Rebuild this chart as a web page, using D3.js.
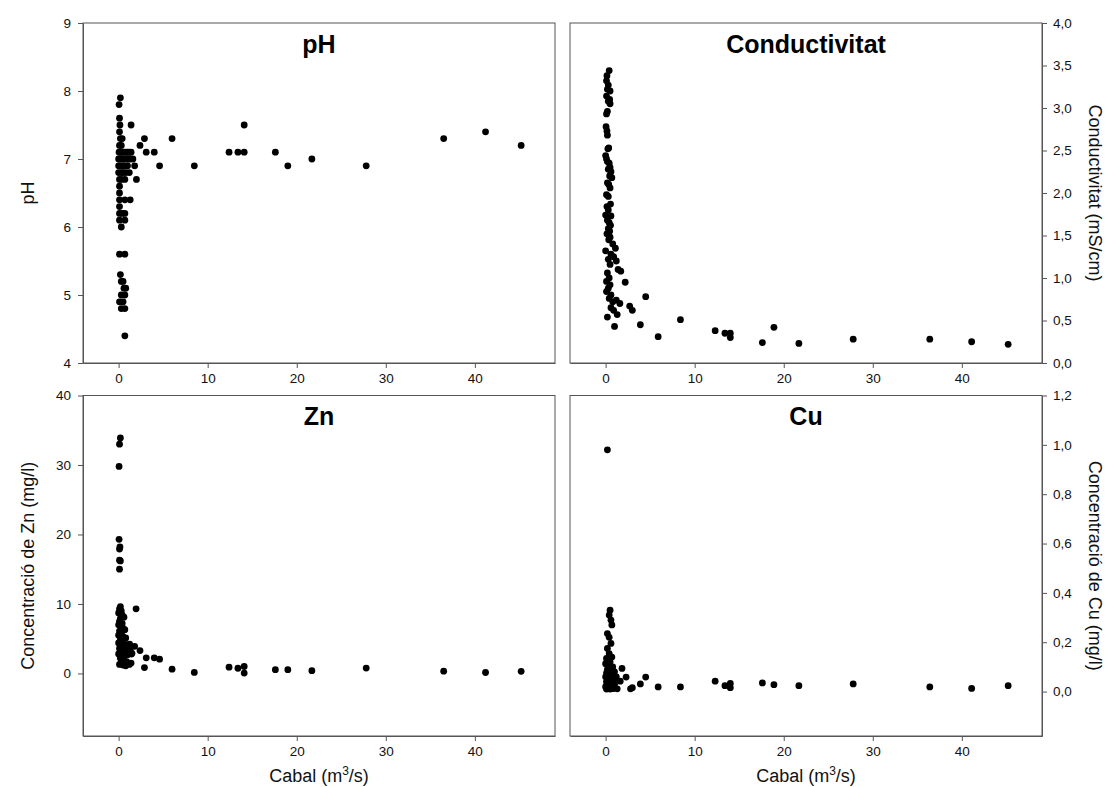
<!DOCTYPE html>
<html><head><meta charset="utf-8">
<script src="https://cdn.jsdelivr.net/npm/d3@7"></script>
<style>
body{margin:0;background:#fff}
text{font-family:"Liberation Sans",Arial,sans-serif}
</style>
</head><body>
<svg id="c" width="1106" height="787"></svg>
<script>
// ---------- DATA ----------
const cabalTicks = [0, 10, 20, 30, 40];
const phTicks = [4, 5, 6, 7, 8, 9];
const condTicks = [0, 0.5, 1, 1.5, 2, 2.5, 3, 3.5, 4];
const znTicks = [0, 10, 20, 30, 40];
const cuTicks = [0, 0.2, 0.4, 0.6, 0.8, 1.0, 1.2];

// [cabal (m3/s), pH]
const phData = [
 [0.2,7.9],[0.05,7.8],[0.1,7.6],[0.15,7.5],[1.4,7.5],[0.1,7.4],[0.2,7.3],[0.4,7.3],[2.9,7.3],
 [0.1,7.2],[0.3,7.2],[2.4,7.2],
 [0.05,7.1],[0.2,7.1],[0.4,7.1],[0.6,7.1],[0.8,7.1],[1.0,7.1],[1.2,7.1],[1.4,7.1],[3.1,7.1],[4.0,7.1],
 [0.0,7.0],[0.2,7.0],[0.4,7.0],[0.6,7.0],[0.9,7.0],[1.1,7.0],[1.3,7.0],[1.6,7.0],
 [0.0,6.9],[0.2,6.9],[0.5,6.9],[0.7,6.9],[1.0,6.9],[1.8,6.9],[4.6,6.9],
 [0.0,6.8],[0.3,6.8],[0.5,6.8],[0.8,6.8],[1.2,6.8],
 [0.1,6.7],[0.3,6.7],[0.7,6.7],[2.0,6.7],
 [0.1,6.6],[0.1,6.5],[0.1,6.4],[0.7,6.4],[1.3,6.4],[0.1,6.3],
 [0.1,6.2],[0.4,6.2],[0.7,6.2],[0.1,6.1],[0.7,6.1],[0.3,6.0],
 [0.1,5.6],[0.7,5.6],[0.2,5.3],[0.3,5.2],[0.5,5.2],[0.6,5.1],[0.8,5.1],
 [0.3,5.0],[0.7,5.0],[0.1,4.9],[0.5,4.9],[0.3,4.8],[0.7,4.8],[0.7,4.4],
 [6.0,7.3],[8.5,6.9],[12.4,7.1],[13.4,7.1],[14.1,7.1],[14.1,7.5],[17.6,7.1],[19.0,6.9],
 [21.7,7.0],[27.8,6.9],[36.5,7.3],[41.2,7.4],[45.2,7.2]
];

// [cabal (m3/s), conductivitat (mS/cm)]
const condData = [
 [0.4,3.44],[0.15,3.38],[0.1,3.32],[0.3,3.27],[0.2,3.22],[0.5,3.2],[0.1,3.14],[0.45,3.1],[0.3,3.08],
 [0.5,3.05],[0.2,2.96],[0.1,2.93],[0.05,2.78],[0.15,2.73],[0.2,2.68],[0.35,2.53],[0.25,2.52],
 [0.0,2.44],[0.1,2.4],[0.2,2.37],[0.4,2.35],[0.5,2.3],[0.3,2.28],[0.6,2.25],[0.45,2.2],[0.7,2.18],
 [0.2,2.12],[0.35,2.1],[0.5,2.06],[0.1,1.98],[0.3,1.96],[0.55,1.87],[0.15,1.84],[0.3,1.8],
 [0.0,1.74],[0.6,1.73],[0.2,1.68],[0.4,1.65],[0.55,1.62],[0.3,1.58],[0.45,1.55],[0.15,1.52],
 [0.5,1.48],[0.35,1.45],[0.8,1.4],[1.1,1.35],[0.0,1.32],[0.6,1.28],[0.9,1.25],[0.3,1.22],
 [1.2,1.2],[0.5,1.16],[1.4,1.1],[1.7,1.08],[0.2,1.06],[0.4,1.0],[0.1,0.96],[2.2,0.95],[0.5,0.92],
 [0.3,0.88],[0.1,0.84],[0.6,0.8],[4.5,0.78],[0.4,0.76],[1.2,0.74],[0.8,0.72],[1.6,0.7],[2.7,0.67],
 [0.6,0.65],[3.0,0.62],[0.9,0.62],[1.3,0.57],[0.2,0.54],[3.9,0.45],[1.0,0.43],
 [8.4,0.51],[5.9,0.31],[12.3,0.38],[13.4,0.35],[14.0,0.35],[14.0,0.30],[17.6,0.24],[18.9,0.42],
 [21.7,0.23],[27.8,0.28],[36.4,0.28],[41.1,0.25],[45.2,0.22]
];

// [cabal (m3/s), Zn (mg/l)]
const znData = [
 [0.2,33.9],[0.1,33.0],[0.05,29.8],[0.05,19.3],[0.15,18.2],[0.1,17.9],[0.1,16.3],[0.2,16.2],[0.1,15.0],
 [0.2,9.6],[0.1,9.3],[0.3,9.0],[0.0,8.7],[0.4,8.4],[0.6,8.1],[0.2,7.9],[0.1,7.5],[0.4,7.2],[0.0,7.0],
 [0.3,6.8],[0.5,6.5],[0.7,6.3],[0.1,6.1],[0.3,5.8],[0.0,5.5],[0.5,5.3],[0.8,5.1],[0.2,4.9],[0.4,4.6],
 [0.0,4.4],[0.6,4.3],[1.0,4.1],[0.2,4.0],[0.9,3.8],[0.1,3.6],[0.5,3.5],[1.3,3.4],[0.3,3.2],[0.7,3.0],
 [0.0,2.8],[1.0,2.7],[0.4,2.5],[1.5,2.9],[0.2,2.2],[0.6,2.0],[0.9,1.7],[0.3,1.5],[1.2,1.3],[0.5,1.2],
 [0.8,1.1],[1.4,1.5],[0.1,1.3],
 [1.24,4.2],[1.44,2.8],[1.8,3.9],[1.96,9.3],[2.4,3.3],[2.9,0.85],[3.1,2.25],[4.0,2.25],[4.6,2.06],
 [6.0,0.62],[8.5,0.15],[12.4,0.9],[13.4,0.75],[14.1,1.0],[14.1,0.05],[17.6,0.55],[19.0,0.55],
 [21.7,0.4],[27.8,0.77],[36.5,0.33],[41.2,0.14],[45.2,0.3]
];

// [cabal (m3/s), Cu (mg/l)]
const cuData = [
 [0.2,0.98],
 [0.5,0.33],[0.4,0.31],[0.6,0.29],[0.7,0.27],[0.2,0.235],[0.4,0.22],[0.6,0.195],[0.2,0.175],
 [0.4,0.154],[0.7,0.14],[0.1,0.134],[0.5,0.12],[0.0,0.113],[0.3,0.105],[0.8,0.1],[0.2,0.09],
 [0.6,0.085],[1.0,0.08],[0.1,0.075],[0.4,0.07],[0.7,0.065],[0.0,0.06],[1.2,0.06],[0.3,0.055],
 [0.5,0.05],[0.9,0.045],[0.1,0.04],[0.6,0.035],[0.2,0.03],[1.0,0.03],[0.4,0.025],[0.0,0.02],
 [0.7,0.02],[0.3,0.015],[0.1,0.01],[0.5,0.01],[0.8,0.012],
 [1.3,0.011],[1.64,0.042],[1.84,0.094],[2.3,0.059],[2.8,0.011],[3.0,0.016],[3.9,0.031],[4.5,0.059],
 [5.9,0.019],[8.4,0.019],[12.3,0.042],[13.4,0.024],[14.0,0.033],[14.0,0.016],[17.6,0.035],
 [18.9,0.028],[21.7,0.024],[27.8,0.031],[36.4,0.019],[41.1,0.013],[45.2,0.024]
];

// ---------- DRAW ----------
const svg = d3.select("#c");
const comma = d3.formatLocale({decimal:",", thousands:".", grouping:[3], currency:["","€"]});
const f1 = comma.format(".1f");
const xDomain = [-4, 49];
const AX = "#555";

const panels = [
 {title:"pH", data:phData, domain:[4,9], ticks:phTicks, fmt:d3.format("d"), side:"left",
  x0:83, x1:555, y0:23, y1:363, ylabel:"pH", xlabel:false},
 {title:"Conductivitat", data:condData, domain:[0,4], ticks:condTicks, fmt:f1, side:"right",
  x0:570, x1:1042, y0:23, y1:363, ylabel:"Conductivitat (mS/cm)", xlabel:false},
 {title:"Zn", data:znData, domain:[-9,40], ticks:znTicks, fmt:d3.format("d"), side:"left",
  x0:83, x1:555, y0:395.5, y1:736, ylabel:"Concentració de Zn (mg/l)", xlabel:true},
 {title:"Cu", data:cuData, domain:[-0.18,1.2], ticks:cuTicks, fmt:f1, side:"right",
  x0:570, x1:1042, y0:395.5, y1:736, ylabel:"Concentració de Cu (mg/l)", xlabel:true}
];

panels.forEach(p => {
  const x = d3.scaleLinear().domain(xDomain).range([p.x0, p.x1]);
  const y = d3.scaleLinear().domain(p.domain).range([p.y1, p.y0]);
  const g = svg.append("g");

  // frame
  g.append("rect").attr("x", p.x0).attr("y", p.y0)
   .attr("width", p.x1 - p.x0).attr("height", p.y1 - p.y0)
   .attr("fill", "none").attr("stroke", AX).attr("stroke-width", 1);

  // x axis
  const xa = g.append("g").attr("transform", `translate(0,${p.y1})`)
   .call(d3.axisBottom(x).tickValues(cabalTicks).tickSizeInner(5).tickSizeOuter(0)
     .tickPadding(5).tickFormat(d3.format("d")));
  // y axis
  let ya;
  if (p.side === "left") {
    ya = g.append("g").attr("transform", `translate(${p.x0},0)`)
      .call(d3.axisLeft(y).tickValues(p.ticks).tickSizeInner(5).tickSizeOuter(0)
        .tickPadding(7).tickFormat(p.fmt));
  } else {
    ya = g.append("g").attr("transform", `translate(${p.x1},0)`)
      .call(d3.axisRight(y).tickValues(p.ticks).tickSizeInner(5).tickSizeOuter(0)
        .tickPadding(6).tickFormat(p.fmt));
  }
  [xa, ya].forEach(a => {
    a.select(".domain").attr("stroke", AX);
    a.selectAll(".tick line").attr("stroke", AX);
    a.selectAll(".tick text").attr("fill", "#111").style("font-size", "13.5px")
      .style("font-family", '"Liberation Sans", Arial, sans-serif');
  });

  // points
  g.append("g").selectAll("circle").data(p.data).join("circle")
   .attr("cx", d => x(d[0])).attr("cy", d => y(d[1])).attr("r", 3.4).attr("fill", "#000");

  // title
  g.append("text").attr("x", (p.x0 + p.x1) / 2).attr("y", p.y0 + 29.5)
   .attr("text-anchor", "middle").style("font-weight", "bold").style("font-size", "25px")
   .attr("fill", "#000").text(p.title);

  // y label
  const cy = (p.y0 + p.y1) / 2;
  if (p.side === "left") {
    g.append("text").attr("transform", `translate(34,${cy}) rotate(-90)`)
     .attr("text-anchor", "middle").style("font-size", "18px").attr("fill", "#111").text(p.ylabel);
  } else {
    g.append("text").attr("transform", `translate(1089,${cy}) rotate(90)`)
     .attr("text-anchor", "middle").style("font-size", "18px").attr("fill", "#111").text(p.ylabel);
  }

  // x label
  if (p.xlabel) {
    const t = g.append("text").attr("x", (p.x0 + p.x1) / 2).attr("y", 782)
      .attr("text-anchor", "middle").style("font-size", "18px").attr("fill", "#111");
    t.append("tspan").text("Cabal (m");
    t.append("tspan").attr("dy", -7).style("font-size", "12px").text("3");
    t.append("tspan").attr("dy", 7).text("/s)");
  }
});
</script>
</body></html>
